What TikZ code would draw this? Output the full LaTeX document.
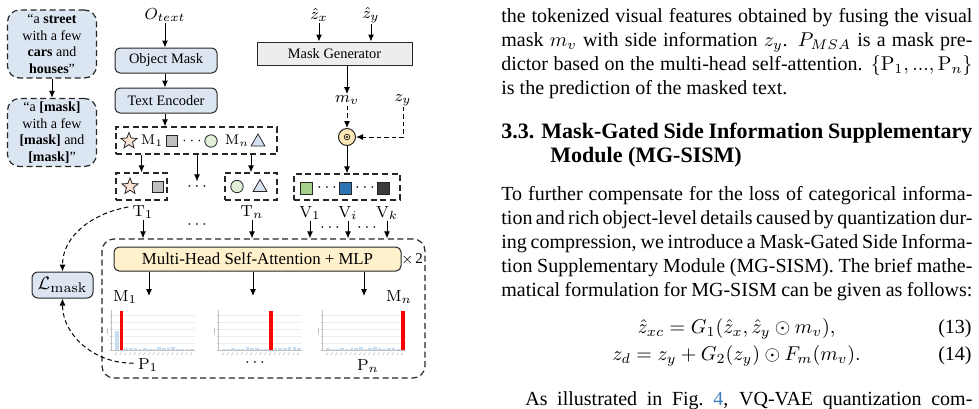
\documentclass[tikz,border=0pt]{standalone}
\usepackage[no-math]{fontspec}
\setmainfont{Liberation Serif}
\usetikzlibrary{shapes.geometric, arrows.meta}

\definecolor{boxblue}{HTML}{DCE6F2}
\definecolor{gengray}{HTML}{EDEDED}
\definecolor{mhsafill}{HTML}{FFF1CC}
\definecolor{odotfill}{HTML}{FDE7B8}
\definecolor{starfill}{HTML}{FBE3D4}
\definecolor{sqgray}{HTML}{BFBFBF}
\definecolor{circfill}{HTML}{E0EFD5}
\definecolor{trifill}{HTML}{D6E2F2}
\definecolor{vgreen}{HTML}{A8D08D}
\definecolor{vblue}{HTML}{2E74B5}
\definecolor{vdark}{HTML}{3B3B3B}
\definecolor{barblue}{HTML}{C6DDF1}
\definecolor{linkblue}{HTML}{3B7DBD}

\tikzset{
  procbox/.style={draw=black!85, line width=0.5pt, rounded corners=2.5pt, fill=boxblue, minimum width=51pt, minimum height=12.5pt, inner sep=0pt, font=\fontsize{7.2}{8}\selectfont},
  genbox/.style={draw=black!85, line width=0.5pt, fill=gengray, minimum width=77.5pt, minimum height=11.5pt, inner sep=0pt, font=\fontsize{7.2}{8}\selectfont},
  capbox/.style={draw=black!85, line width=0.6pt, dash pattern=on 3pt off 1.8pt, rounded corners=6pt, fill=boxblue, minimum width=44.5pt, minimum height=34pt, inner sep=0pt, align=center, font=\fontsize{7}{8.2}\selectfont},
  grpbox/.style={draw=black!85, line width=0.6pt, dash pattern=on 3pt off 1.8pt, inner sep=0pt},
  mhsabox/.style={draw=black!85, line width=0.5pt, rounded corners=2.5pt, fill=mhsafill, minimum width=143.5pt, minimum height=12pt, inner sep=0pt, font=\fontsize{8.4}{9}\selectfont},
  lossbox/.style={draw=black!85, line width=0.5pt, rounded corners=3pt, fill=boxblue, minimum width=30.5pt, minimum height=13pt, inner sep=0pt, font=\fontsize{9.5}{10}\selectfont},
  gate/.style={circle, draw=black!85, line width=0.5pt, fill=odotfill, minimum size=8.5pt, inner sep=0pt},
  lbl/.style={inner sep=0.5pt, font=\fontsize{8}{9}\selectfont},
  rowlbl/.style={inner sep=0.5pt, font=\fontsize{7}{8}\selectfont},
  tok/.style={draw=black!85, line width=0.4pt, inner sep=0pt},
  flow/.style={->, line width=0.5pt},
  dflow/.style={->, line width=0.5pt, dash pattern=on 2.2pt off 1.5pt},
  chartgrid/.style={draw=black!7, line width=0.3pt},
  chartaxis/.style={draw=black!25, line width=0.3pt},
  bodyline/.style={anchor=base west, inner sep=0pt, font=\fontsize{10}{12}\selectfont},
}

% attention chart: #1 left x, #2 slot of the red bar, #3 bar heights
\newcommand{\attnchart}[3]{%
  \begin{scope}[shift={(#1,350)}]
    \foreach \k in {1,...,5} \draw[chartgrid] (0,-\k*7) -- (84,-\k*7);
    \draw[chartaxis] (0,0) -- (0,-40);
    \draw[chartaxis] (0,0) -- (84,0);
    \foreach \k in {0,...,5} \draw[chartaxis] (-1.5,-\k*7) -- (0,-\k*7);
    \draw[chartaxis] (-4,-16) -- (-4,-22);
    \foreach \h [count=\i from 0] in {#3} \fill[barblue] (4+\i*4.7,0) rectangle ++(3.6,-\h);
    \fill[red] (4+#2*4.7,0) rectangle ++(3.6,-39);
    \foreach \i in {0,...,16} \draw[chartaxis] (6+\i*4.7,2.5) -- ++(-2,2.5);
  \end{scope}}

\begin{document}
\begin{tikzpicture}[x=0.5pt, y=-0.5pt, >={Latex[length=3.5pt,width=3pt]}]
\useasboundingbox (0,0) rectangle (979,408);

% ==== CAPTIONS ====
\node[capbox] (cap1) at (52,44) {“a \textbf{street}\\with a few\\\textbf{cars} and\\\textbf{houses}”};
\node[capbox] (cap2) at (52,132.5) {“a \textbf{[mask]}\\with a few\\\textbf{[mask]} and\\\textbf{[mask]}”};
\draw[flow] (cap1) -- (cap2);

% ==== TEXT BRANCH ====
\node[lbl] (otext) at (165,15) {$O_{text}$};
\node[procbox] (objmask) at (166,60.5) {Object Mask};
\node[procbox] (textenc) at (166,100.5) {Text Encoder};
\draw[flow] (otext.south) -- (otext.south |- objmask.north);
\draw[flow] (objmask.south -| otext.south) -- (textenc.north -| otext.south);

\node[grpbox, minimum width=80.5pt, minimum height=13.5pt] (row) at (196.5,140.5) {};
\draw[flow] (textenc.south -| otext.south) -- (row.north -| otext.south);
\node[tok, star, star points=5, star point ratio=2.3, minimum size=8.5pt, fill=starfill] (star1) at (129,141) {};
\node[rowlbl] (m1row) at (152,141) {$\mathrm{M}_1$};
\node[tok, minimum size=5.5pt, fill=sqgray] (sq1) at (172,141) {};
\node[rowlbl] (rowdots) at (192,141) {$\cdots$};
\node[tok, circle, minimum size=6.2pt, fill=circfill] (circ1) at (211,141) {};
\node[rowlbl] (mnrow) at (237,141) {$\mathrm{M}_n$};
\node[tok, regular polygon, regular polygon sides=3, minimum size=8pt, fill=trifill] (tri1) at (258,142) {};

\node[grpbox, minimum width=25.5pt, minimum height=13.5pt] (t1box) at (141.5,186.5) {};
\node[tok, star, star points=5, star point ratio=2.3, minimum size=8.5pt, fill=starfill] (star2) at (130,186.5) {};
\node[tok, minimum size=5.5pt, fill=sqgray] (sq2) at (158,186.5) {};
\node[lbl] (tdots) at (197,186.5) {$\cdots$};
\node[grpbox, minimum width=26pt, minimum height=13.5pt] (tnbox) at (251,186.5) {};
\node[tok, circle, minimum size=6.2pt, fill=circfill] (circ2) at (237,186.5) {};
\node[tok, regular polygon, regular polygon sides=3, minimum size=8pt, fill=trifill] (tri2) at (260,187.5) {};
\draw[flow] (t1box.north |- row.south) -- (t1box.north);
\draw[flow] (tdots.north |- row.south) -- (tdots.north);
\draw[flow] (tnbox.north |- row.south) -- (tnbox.north);

\node[lbl] (t1) at (143,212) {$\mathrm{T}_1$};
\node[lbl] (tn) at (252,212) {$\mathrm{T}_n$};
\node[lbl] (tdots2) at (197,225) {$\cdots$};

% ==== VISUAL BRANCH ====
\node[lbl] (zx) at (319,15) {$\hat{z}_x$};
\node[lbl] (zhy) at (371,15) {$\hat{z}_y$};
\node[genbox] (maskgen) at (334.5,53.5) {Mask Generator};
\draw[flow] (zx.south) -- (zx.south |- maskgen.north);
\draw[flow] (zhy.south) -- (zhy.south |- maskgen.north);
\node[lbl] (mv) at (347,100) {$m_v$};
\node[lbl] (zy) at (403,100) {$z_y$};
\draw[flow] (maskgen.south -| mv) -- (mv.north);
\node[gate] (gate) at (347,137) {};
\draw[line width=0.3pt] (gate.center) circle (1.4pt);
\fill (gate.center) circle (0.6pt);
\draw[dflow] (mv.south) -- (gate.north);
\draw[dflow] (zy.south) |- (gate.east);

\node[grpbox, minimum width=53pt, minimum height=13pt] (vbox) at (347,187) {};
\draw[flow] (gate.south) -- (vbox.north);
\node[tok, minimum size=6pt, fill=vgreen] (vq1) at (306,188) {};
\node[lbl] (vdots1) at (327,188) {$\cdots$};
\node[tok, minimum size=6pt, fill=vblue] (vqi) at (345,188) {};
\node[lbl] (vdots2) at (365,188) {$\cdots$};
\node[tok, minimum size=6pt, fill=vdark] (vqk) at (383,188) {};

\node[lbl] (v1) at (310,213) {$\mathrm{V}_1$};
\node[lbl] (vi) at (348,213) {$\mathrm{V}_i$};
\node[lbl] (vk) at (387,213) {$\mathrm{V}_k$};
\node[lbl] (vdots3) at (330,228) {$\cdots$};
\node[lbl] (vdots4) at (367,228) {$\cdots$};

% ==== MASK PREDICTOR ====
\node[grpbox, rounded corners=6pt, minimum width=161.5pt, minimum height=69.5pt] (pred) at (263.5,308.5) {};
\foreach \n in {t1,tn,v1,vi,vk}
  \draw[flow] (\n.south) -- (\n.south |- pred.north);
\node[mhsabox] (mhsa) at (257.5,259) {Multi-Head Self-Attention + MLP};
\node[inner sep=0.5pt, font=\fontsize{7.5}{9}\selectfont] (times) at (412,259) {$\times$\hspace{0.8pt}2};
\coordinate (h1) at (149,296);
\coordinate (h2) at (253,296);
\coordinate (h3) at (364,296);
\foreach \c in {h1,h2,h3}
  \draw[flow] (mhsa.south -| \c) -- (\c);
\node[lbl] (m1) at (125,297) {$\mathrm{M}_1$};
\node[lbl] (mn) at (399,297) {$\mathrm{M}_n$};

\attnchart{111}{1}{19,3,2.5,2,2.5,1.5,2.5,1,1,3,2.5,2.5,3,1.5,1,1,1}
\attnchart{218}{10}{1,1.5,2,1,1.5,3,2,2,1.5,1,0,2.5,2,2.5,3,3.5,2}
\attnchart{322}{16}{2,1.5,1,2,1.5,2,2.5,3,1.5,2,3,2,1.5,2.5,2,1.5,0}

\node[lbl] (p1) at (148,365) {$\mathrm{P}_1$};
\node[lbl] (pdots) at (255,363) {$\cdots$};
\node[lbl] (pn) at (368,366) {$\mathrm{P}_n$};

% ==== LOSS ====
\node[lossbox] (lmask) at (62.5,285) {$\mathcal{L}_{\mathrm{mask}}$};
\draw[dflow] ([xshift=-1.5pt,yshift=2.5pt]t1.west) to[out=190, in=90] (lmask.north);
\draw[dflow] ([xshift=-1.5pt,yshift=1pt]p1.west) to[out=182, in=-90] (lmask.south);

% ==== TEXT COLUMN ====
\node[bodyline] (l1) at (501,22) {\makebox[235.5pt][s]{the tokenized visual features obtained by fusing the visual}};
\node[bodyline] (l2) at (501,46) {\makebox[235.5pt][s]{mask $m_v$ with side information $z_y$. $P_{MSA}$ is a mask pre-}};
\node[bodyline] (l3) at (501,70) {\makebox[235.5pt][s]{dictor based on the multi-head self-attention. $\{\mathrm{P}_1, ..., \mathrm{P}_n\}$}};
\node[bodyline] (l4) at (501,94) {is the prediction of the masked text.};
\node[bodyline, font=\fontsize{11}{14}\selectfont\bfseries] (h1t) at (501,138) {\makebox[235.5pt][s]{3.3. Mask-Gated Side Information Supplementary}};
\node[bodyline, font=\fontsize{11}{14}\selectfont\bfseries] (h2t) at (550,162) {Module (MG-SISM)};
\node[bodyline] (p1t) at (501,200) {\makebox[235.5pt][s]{To further compensate for the loss of categorical informa-}};
\node[bodyline] (p2t) at (501,224) {\makebox[235.5pt][s]{tion and rich object-level details caused by quantization dur-}};
\node[bodyline] (p3t) at (501,248) {\makebox[235.5pt][s]{ing compression, we introduce a Mask-Gated Side Informa-}};
\node[bodyline] (p4t) at (501,272) {\makebox[235.5pt][s]{tion Supplementary Module (MG-SISM). The brief mathe-}};
\node[bodyline] (p5t) at (501,296) {\makebox[235.5pt][s]{matical formulation for MG-SISM can be given as follows:}};
\node[bodyline, anchor=base] (eq1) at (736.5,333) {$\hat{z}_{xc} = G_1(\hat{z}_x, \hat{z}_y \odot m_v),$};
\node[bodyline, anchor=base east] (eq1n) at (972,333) {(13)};
\node[bodyline, anchor=base] (eq2) at (736.5,360) {$z_d = z_y + G_2(z_y) \odot F_m(m_v).$};
\node[bodyline, anchor=base east] (eq2n) at (972,360) {(14)};
\node[bodyline] (lastt) at (525,405) {\makebox[223.5pt][s]{As illustrated in Fig.~\textcolor{linkblue}{4}, VQ-VAE quantization com-}};

\end{tikzpicture}
\end{document}
